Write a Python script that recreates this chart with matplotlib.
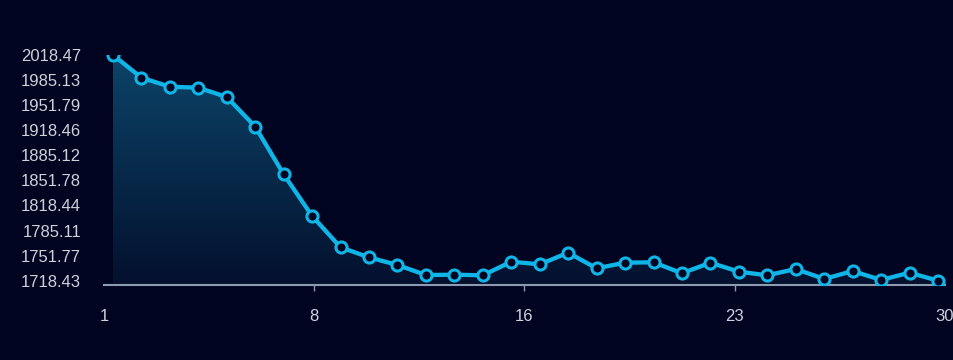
import matplotlib
matplotlib.use('Agg')
import matplotlib.pyplot as plt
import numpy as np
from matplotlib.colors import LinearSegmentedColormap

# data
days = list(range(1, 31))
values = [2018.47, 1988.3, 1976.3, 1975.0, 1962.6, 1923.2, 1859.9, 1804.4,
          1762.8, 1749.5, 1739.3, 1726.0, 1726.4, 1725.6, 1743.7, 1740.2,
          1755.6, 1734.9, 1742.4, 1742.9, 1728.3, 1742.4, 1730.4, 1725.6,
          1734.0, 1720.7, 1731.3, 1719.4, 1729.1, 1718.43]
x_labels = ['1', '8', '16', '23', '30']

BG = '#000420'
LINE = '#0fb5e6'
AXIS = '#8c9bb0'
TEXT = '#cdd1da'

plt.rcParams['font.family'] = ['Liberation Sans', 'DejaVu Sans']

fig = plt.figure(figsize=(9.54, 3.6), dpi=100, facecolor=BG)
ax = fig.add_axes([104 / 954, 75 / 360, 841 / 954, 230 / 360])
ax.set_facecolor(BG)

ymin, ymax = min(values), max(values)
# y range: ticks span 225.7 px of the 230 px axes height
ybot = ymin - (ymax - ymin) * 4.3 / 225.7
ax.set_ylim(ybot, ymax)
# x range: points span 825 px, axis spans 841 px
unit = 825 / 29
xlim = (1 - 9 / unit, 30 + 7 / unit)
ax.set_xlim(*xlim)

# gradient fill under line
fill = ax.fill_between(days, values, ybot, color='none')
cmap = LinearSegmentedColormap.from_list('g', ['#04102e', '#0b4468'])
grad = np.linspace(0, 1, 256).reshape(-1, 1)
img = ax.imshow(grad, cmap=cmap, origin='lower', aspect='auto',
                extent=[xlim[0], xlim[1], ybot, ymax], zorder=1)
path = fill.get_paths()[0]
img.set_clip_path(path, transform=ax.transData)

ax.plot(days, values, color=LINE, linewidth=3.1, marker='o', markersize=8,
        markerfacecolor=BG, markeredgecolor=LINE, markeredgewidth=2.2,
        zorder=3, solid_joinstyle='round')

# y ticks
yticks = np.linspace(ymin, ymax, 10)
ax.set_yticks(yticks)
ax.set_yticklabels([f'{v:.2f}' for v in yticks])
ax.tick_params(axis='y', length=0, pad=16.5, labelsize=12, labelcolor=TEXT)

# x ticks evenly spaced along the axis
ax.set_xticks(np.linspace(xlim[0], xlim[1], 5))
ax.set_xticklabels(x_labels)
ax.tick_params(axis='x', length=4.5, width=1, color=AXIS, pad=12.5,
               labelsize=12, labelcolor=TEXT)
xt = ax.xaxis.get_major_ticks()
xt[0].tick1line.set_visible(False)
xt[-1].tick1line.set_visible(False)

for s in ['top', 'right', 'left']:
    ax.spines[s].set_visible(False)
ax.spines['bottom'].set_color(AXIS)
ax.spines['bottom'].set_linewidth(1.5)
ax.spines['bottom'].set_zorder(2)

fig.savefig('out.png', dpi=100, facecolor=BG)
